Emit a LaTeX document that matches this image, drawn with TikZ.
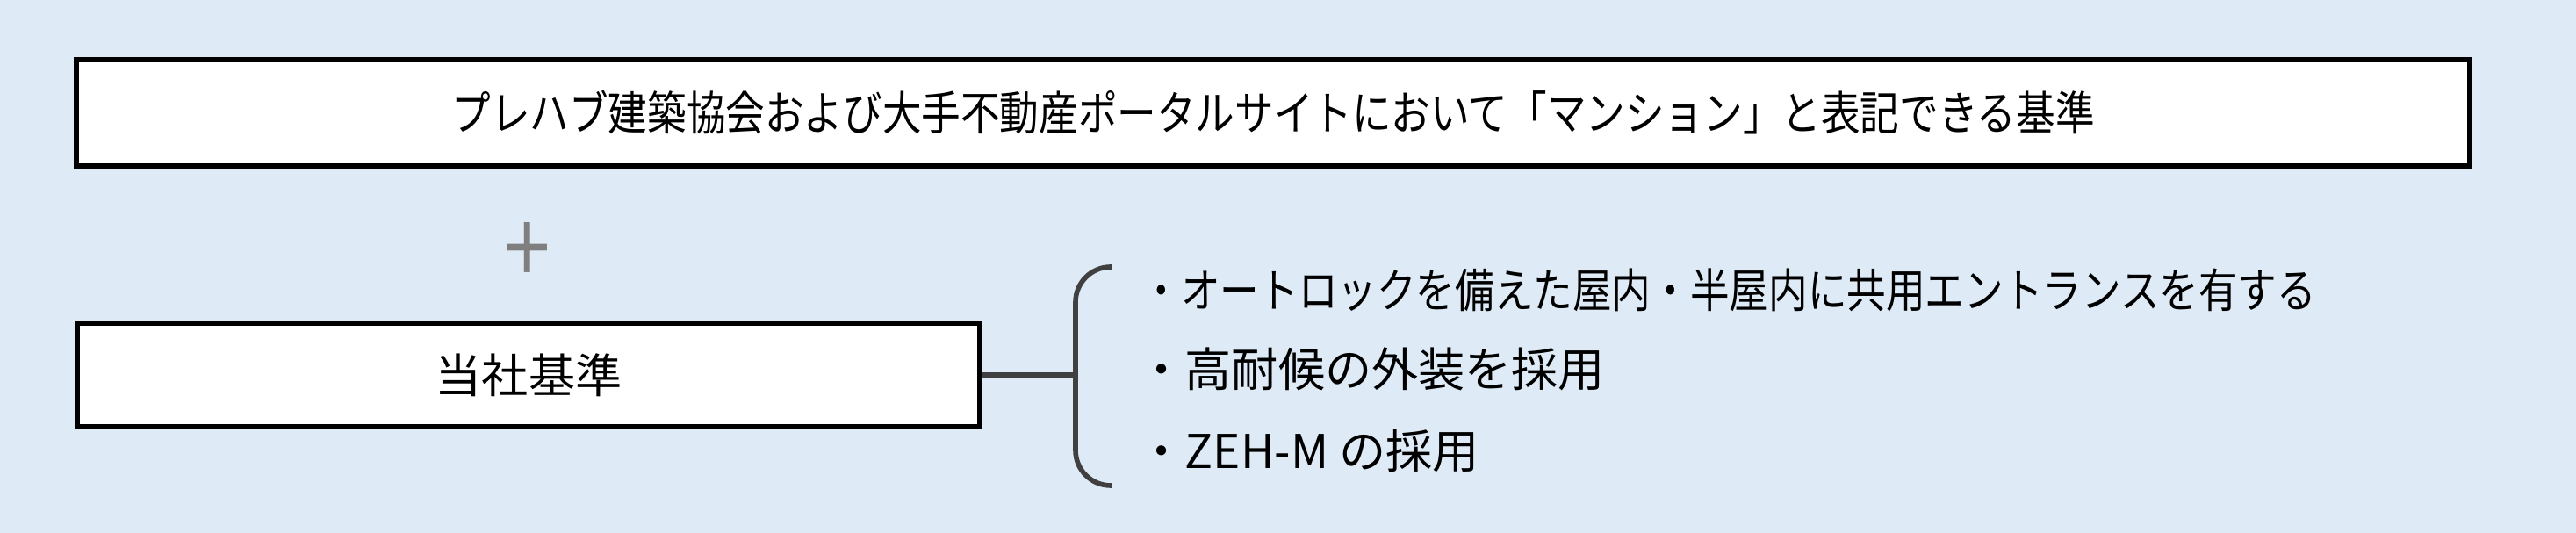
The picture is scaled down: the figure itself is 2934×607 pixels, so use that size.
\documentclass[tikz,border=0pt]{standalone}
\usepackage{fontspec}
\setmainfont{Noto Sans CJK JP}[FakeStretch=0.84]
\newfontfamily\jpwide{Noto Sans CJK JP}
\usetikzlibrary{positioning}
\definecolor{bgblue}{HTML}{DEEBF7}
\definecolor{linegray}{HTML}{404040}
\definecolor{plusgray}{HTML}{7F7F7F}

\begin{document}
\begin{tikzpicture}[x=0.01cm, y=0.01cm,
  every node/.style={font=\fontsize{15.1pt}{18pt}\selectfont},
  box/.style={rectangle, draw=black, line width=1.7pt, fill=white, inner sep=0pt},
  item/.style={anchor=west, inner sep=0pt},
  wide/.style={font=\jpwide\fontsize{15.1pt}{18pt}\selectfont},
  ln/.style={draw=linegray, line width=1.6pt}
]
  \fill[bgblue] (0,0) rectangle (2934,607);
  \node[box, minimum width=27.24cm, minimum height=1.2cm] (std) at (1450,478.5) {プレハブ建築協会および大手不動産ポータルサイトにおいて「マンション」と表記できる基準};
  \node[font=\fontsize{32pt}{32pt}\selectfont, text=plusgray, inner sep=0pt] (plus) at (601,318) {+};
  \node[box, wide, minimum width=10.27cm, minimum height=1.17cm] (own) at (602,180) {当社基準};
  % brace and items
  \coordinate (btop) at (1266,303);
  \coordinate (bbot) at (1266,54);
  \coordinate (bspine) at (1225,0);
  \draw[ln, rounded corners=0.4cm] (btop) -- (btop -| bspine) -- (bbot -| bspine) -- (bbot);
  \draw[ln] (own.east) -- (own.east -| bspine);
  \node[item] (item1) at (1300,277) {・オートロックを備えた屋内・半屋内に共用エントランスを有する};
  \node[item, wide] (item2) at (1296,187) {・高耐候の外装を採用};
  \node[item, wide] (item3) at (1296,94) {・ZEH-M の採用};
\end{tikzpicture}
\end{document}
